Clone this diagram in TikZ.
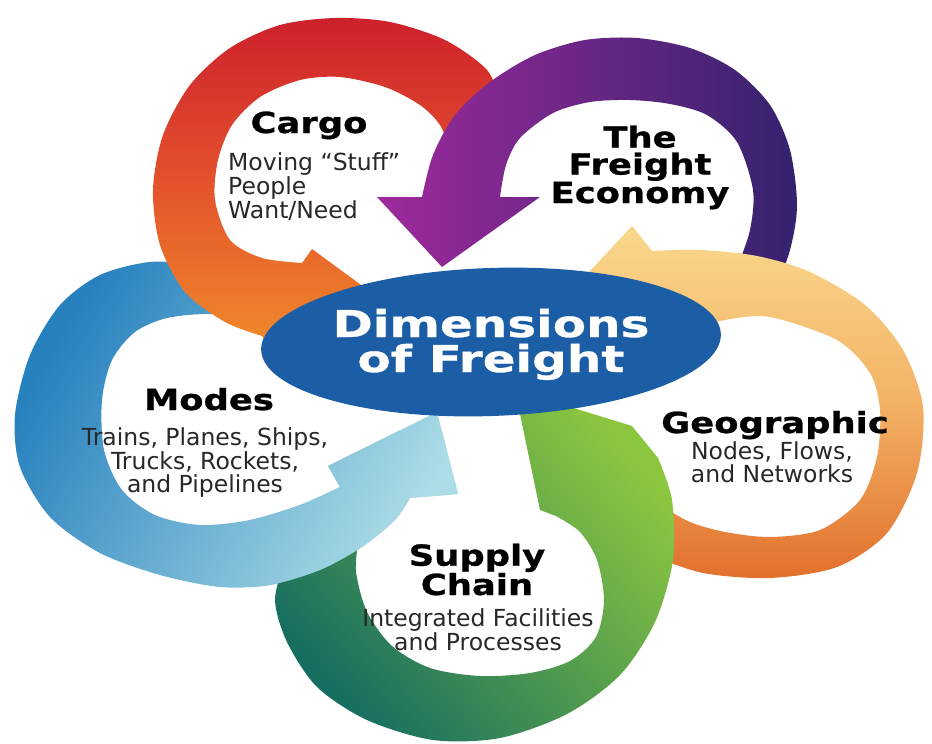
\documentclass[tikz,border=0pt]{standalone}
\usepackage{fontspec}
\setmainfont{DejaVu Sans}
\newfontfamily\heavyfont{DejaVu Sans}[FakeStretch=1.22, FakeBold=0.8]
\newfontfamily\titlefont{DejaVu Sans}[FakeStretch=1.31, FakeBold=0.8]
\usetikzlibrary{shapes.geometric}
\definecolor{cargoRed}{RGB}{205,32,44}
\definecolor{cargoMid}{RGB}{228,84,44}
\definecolor{cargoOrange}{RGB}{240,140,42}
\definecolor{purpL}{RGB}{158,42,156}
\definecolor{purpR}{RGB}{52,34,110}
\definecolor{yelT}{RGB}{249,216,140}
\definecolor{yelM}{RGB}{243,178,102}
\definecolor{yelB}{RGB}{226,112,44}
\definecolor{bluD}{RGB}{38,128,190}
\definecolor{bluL}{RGB}{172,220,230}
\definecolor{grnD}{RGB}{22,110,96}
\definecolor{grnL}{RGB}{140,198,63}
\definecolor{hubBlue}{RGB}{28,94,166}
\definecolor{bodygray}{RGB}{40,40,40}
\tikzset{
  cargofill/.style={top color=cargoRed, bottom color=cargoOrange, middle color=cargoMid},
  econfill/.style={left color=purpL, right color=purpR},
  geofill/.style={top color=yelT, bottom color=yelB, middle color=yelM},
  modesfill/.style={top color=bluD, bottom color=bluL, shading angle=60},
  supfill/.style={top color=grnL, bottom color=grnD, shading angle=-50},
  head/.style={font=\heavyfont\bfseries\fontsize{29}{27}\selectfont, text=black, align=center, inner sep=0pt, anchor=base},
  body/.style={font=\fontsize{23.5}{22.5}\selectfont, text=bodygray, align=center, inner sep=0pt, anchor=base},
  title/.style={font=\titlefont\bfseries\fontsize{37}{35}\selectfont, text=white, align=center, inner sep=0pt, anchor=base},
}
\newcommand{\drawmodesring}{%
  \shade[modesfill] plot[smooth] coordinates {(292,302) (250,278) (200,265) (150,262) (100,275) (60,305) (30,355) (15,415) (20,467) (50,517) (100,553) (160,575) (220,587) (270,585) (320,570) (362,547) (395,520) (410,498)}
    -- (458,494) -- (437,412) -- (328,466)
    -- plot[smooth] coordinates {(340,487) (300,505) (250,520) (200,525) (155,515) (122,490) (104,450) (102,400) (112,360) (135,332) (167,318) (210,314) (250,320) (290,332)}
    -- cycle;}
\begin{document}
\begin{tikzpicture}[x=1pt,y=-1pt]
\useasboundingbox (0,0) rectangle (932,744);
\fill[white] (0,0) rectangle (932,744);
% Modes ring (blue)
\drawmodesring
% Cargo ring (red-orange)
\shade[cargofill] plot[smooth] coordinates {(490,140) (497,100) (487,70) (445,40) (390,22) (335,18) (280,25) (230,48) (190,85) (163,135) (153,190) (160,245) (185,292) (225,322) (262,336)}
  -- (275,356) -- (398,312) -- (312,249)
  -- plot[smooth] coordinates {(302,263) (262,258) (230,240) (215,200) (218,160) (232,125) (260,97) (300,80) (340,77) (385,87) (420,105) (440,125) (450,150)}
  -- cycle;
% Freight economy ring (purple)
\shade[econfill] plot[smooth] coordinates {(772,300) (790,250) (797,205) (790,150) (770,105) (735,70) (690,48) (637,38) (585,40) (535,55) (490,82) (455,115) (433,155) (422,197)}
  -- (377,197) -- (442,267) -- (540,197)
  -- plot[smooth] coordinates {(500,197) (506,165) (520,138) (553,113) (590,102) (630,100) (670,104) (707,115) (737,142) (753,190) (750,230) (738,265)}
  -- cycle;
% Geographic ring (yellow-orange)
\shade[geofill] plot[smooth] coordinates {(650,555) (703,573) (770,578) (837,567) (887,533) (917,473) (923,407) (903,350) (865,305) (810,272) (757,256) (700,250) (652,251)}
  -- (632,226) -- (563,300) -- (695,355)
  -- plot[smooth] coordinates {(690,330) (725,320) (770,317) (837,340) (870,373) (880,410) (877,457) (860,500) (820,530) (770,537) (725,532) (690,522) (660,505)}
  -- cycle;
% Supply chain ring (green)
\shade[supfill] plot[smooth] coordinates {(285,560) (275,600) (287,642) (317,687) (367,720) (433,740) (500,738) (567,714) (620,675) (655,622) (673,560) (672,500) (658,458)}
  -- (632,426) -- (515,390) -- (540,510)
  -- plot[smooth] coordinates {(556,516) (580,532) (597,560) (604,600) (596,637) (570,661) (530,673) (480,676) (430,668) (392,646) (367,612) (356,572) (358,545)}
  -- cycle;
% Modes ring head over green tail
\begin{scope}
  \clip (250,430) rectangle (480,620);
  \drawmodesring
\end{scope}
% central ellipse
\node[ellipse, fill=hubBlue, minimum width=460pt, minimum height=148pt, inner sep=0pt, rotate=2] (hub) at (491,342) {};
\node[title] (hubtext) at (491,372) {Dimensions\\of Freight};
% labels (base anchor = baseline of last line)
\node[head] (cargoT) at (309,133) {Cargo};
\node[body, anchor=base west, align=left] (cargoB) at (228,218) {Moving “Stuff”\\People\\Want/Need};
\node[head] (econT) at (640,203) {The\\Freight\\Economy};
\node[head] (modesT) at (209,410) {Modes};
\node[body] (modesB) at (205,492) {Trains, Planes, Ships,\\Trucks, Rockets,\\and Pipelines};
\node[head] (geoT) at (775,433) {Geographic};
\node[body] (geoB) at (772,482) {Nodes, Flows,\\and Networks};
\node[head] (supT) at (477,595) {Supply\\Chain};
\node[body] (supB) at (478,650) {Integrated Facilities\\and Processes};
\end{tikzpicture}
\end{document}
